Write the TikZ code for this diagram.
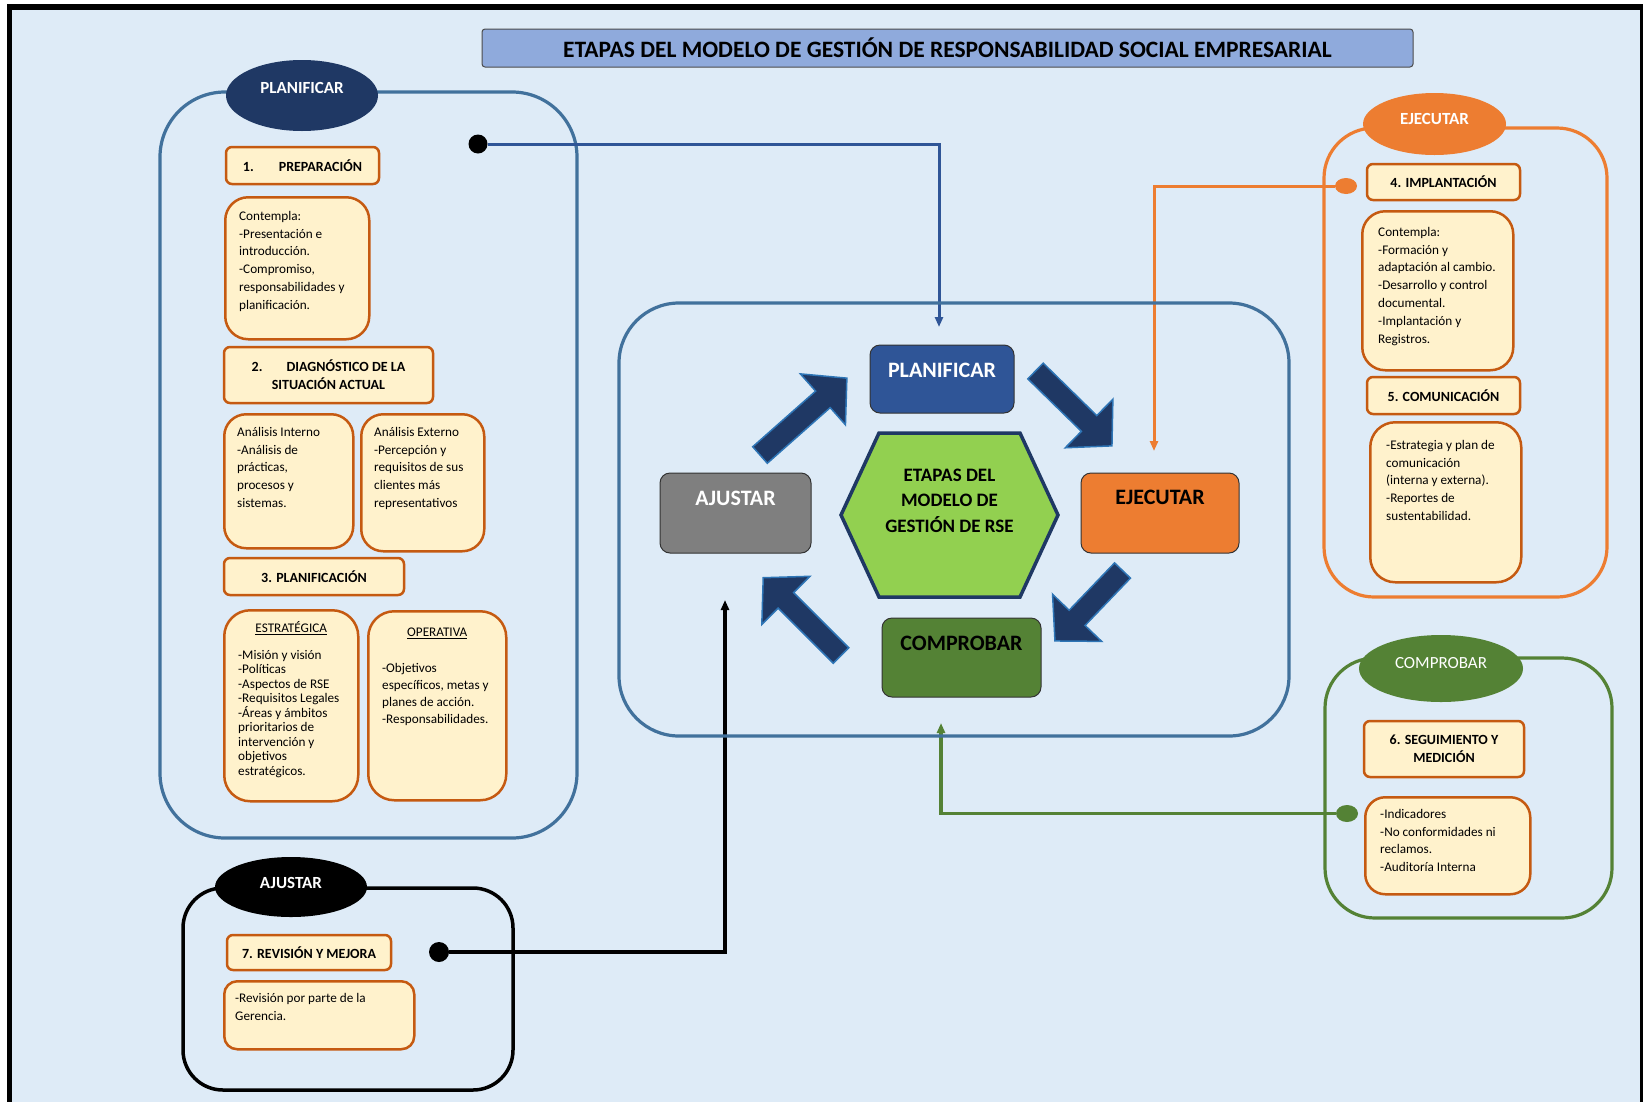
\documentclass[tikz,border=0pt]{standalone}
\usepackage{fontspec}
\setmainfont{Carlito}
\usetikzlibrary{arrows.meta, shapes.geometric}

\definecolor{bgblue}{HTML}{DEEBF7}
\definecolor{titleblue}{HTML}{8FAADC}
\definecolor{planblue}{HTML}{41719C}
\definecolor{navy}{HTML}{1F3864}
\definecolor{midblue}{HTML}{2F5597}
\definecolor{lineblue}{HTML}{2E75B6}
\definecolor{itemfill}{HTML}{FFF2CC}
\definecolor{itemline}{HTML}{C55A11}
\definecolor{ejorange}{HTML}{ED7D31}
\definecolor{okgreen}{HTML}{548235}
\definecolor{hexgreen}{HTML}{92D050}
\definecolor{stagegray}{HTML}{7F7F7F}

% block arrow of the cycle: tail, angle, length
\newcommand{\cyclearrow}[3]{%
	\draw[cycle arrow, shift = {#1}, rotate = #2]
		(0, -11) -- (#3 - 32, -11) -- (#3 - 32, -34) -- (#3, 0)
		-- (#3 - 32, 34) -- (#3 - 32, 11) -- (0, 11) -- cycle;}

\begin{document}
\begin{tikzpicture}[x = 1pt, y = -1pt,
		group/.style = {line width = 3.2pt},
		tag/.style = {ellipse, draw = none, inner sep = 0},
		tag text/.style = {text = white, inner sep = 0, font = \bfseries\fontsize{17}{20}\selectfont},
		head box/.style = {draw = itemline, fill = itemfill, line width = 2.5pt, rounded corners = 6pt, inner sep = 0, align = center, font = \bfseries\fontsize{14}{18}\selectfont},
		card/.style = {draw = itemline, fill = itemfill, line width = 2.5pt, inner sep = 0, anchor = north west},
		card head/.style = {inner sep = 0, font = \fontsize{13.2}{16}\selectfont},
		card text/.style = {anchor = north west, align = left, inner sep = 0, font = \fontsize{13.2}{17.8}\selectfont},
		stage/.style = {draw = black!80, line width = 1pt, rounded corners = 10pt, inner sep = 0},
		stage text/.style = {inner sep = 0, font = \bfseries\fontsize{22}{26}\selectfont},
		dot/.style = {ellipse, inner sep = 0},
		link/.style = {line width = 3pt, -{Triangle[length = 10pt, width = 8pt]}},
		cycle arrow/.style = {fill = navy, draw = lineblue, line width = 1.5pt, line join = miter}]
	\useasboundingbox (0, 0) rectangle (1643, 1101);
	% frame
	\draw[line width = 5.6pt, fill = bgblue] (9.5, 7) rectangle (1642.5, 1130);
	% title
	\node[draw = black!70, fill = titleblue, rounded corners = 3pt, line width = 1pt, minimum width = 931, minimum height = 38, inner sep = 0, font = \bfseries\fontsize{23.5}{28}\selectfont] (title) at (947.5, 48) {ETAPAS DEL MODELO DE GESTIÓN DE RESPONSABILIDAD SOCIAL EMPRESARIAL};

	% planificar
	\draw[group, draw = planblue, rounded corners = 65pt] (160, 92) rectangle (577, 838);
	\node[tag, fill = navy, minimum width = 152, minimum height = 71, label = {[tag text, yshift = 8pt]center:PLANIFICAR}] (plan-tag) at (302, 95.5) {};
	\node[head box, minimum width = 153, minimum height = 37] (prep-head) at (302.5, 165.5) {1.\hspace{25pt}PREPARACIÓN};
	\node[card, rounded corners = 23pt, minimum width = 144, minimum height = 142] (prep-card) at (224, 196) {};
	\node[card text] (prep-text) at (239, 211) {Contempla:\\-Presentación e\\introducción.\\-Compromiso,\\responsabilidades y\\planificación.};
	\node[head box, minimum width = 209, minimum height = 56] (diag-head) at (328.5, 375) {2.\hspace{24pt}DIAGNÓSTICO DE LA\\SITUACIÓN ACTUAL};
	\node[card, rounded corners = 22pt, minimum width = 129, minimum height = 134] (int-card) at (223, 413) {};
	\node[card text] (int-text) at (237, 427) {Análisis Interno\\-Análisis de\\prácticas,\\procesos y\\sistemas.};
	\node[card, rounded corners = 22pt, minimum width = 123, minimum height = 137] (ext-card) at (360, 413) {};
	\node[card text] (ext-text) at (374, 427) {Análisis Externo\\-Percepción y\\requisitos de sus\\clientes más\\representativos};
	\node[head box, minimum width = 180, minimum height = 37] (plan-head) at (314, 576.5) {3. PLANIFICACIÓN};
	\node[card, rounded corners = 26pt, minimum width = 134, minimum height = 191, label = {[card head, yshift = 77.5pt]center:\underline{ESTRATÉGICA}}] (est-card) at (223, 609) {};
	\node[card text, font = \fontsize{13.2}{14.5}\selectfont] (est-text) at (238, 650) {-Misión y visión\\-Políticas\\-Aspectos de RSE\\-Requisitos Legales\\-Áreas y ámbitos\\prioritarios de\\intervención y\\objetivos\\estratégicos.};
	\node[card, rounded corners = 26pt, minimum width = 138, minimum height = 189, label = {[card head, yshift = 72.5pt]center:\underline{OPERATIVA}}] (ope-card) at (367, 610) {};
	\node[card text, font = \fontsize{13.2}{17}\selectfont] (ope-text) at (382, 663) {-Objetivos\\específicos, metas y\\planes de acción.\\-Responsabilidades.};
	% planificar link
	\node[dot, fill = black, minimum width = 19, minimum height = 19] (plan-dot) at (478, 144) {};
	\coordinate (plan-end) at (939, 327);
	\draw[link, midblue] (plan-dot) -| (plan-end);

	% ajustar
	\draw[group, draw = black, line width = 3.5pt, rounded corners = 40pt] (183, 888) rectangle (513, 1090);
	\node[tag, fill = black, minimum width = 152, minimum height = 60, label = {[tag text, yshift = 4pt]center:AJUSTAR}] (adj-tag) at (291, 887) {};
	\node[head box, minimum width = 164, minimum height = 35] (rev-head) at (309, 952.5) {7. REVISIÓN Y MEJORA};
	\node[card, rounded corners = 13pt, minimum width = 190, minimum height = 68] (rev-card) at (223, 980) {};
	\node[card text] (rev-text) at (235, 993) {-Revisión por parte de la\\Gerencia.};
	\node[dot, fill = black, minimum width = 20, minimum height = 20] (adj-dot) at (439, 952) {};
	\coordinate (adj-end) at (725, 600);
	\draw[link, black, line width = 3.2pt] (adj-dot) -| (adj-end);

	% ejecutar
	\draw[group, draw = ejorange, rounded corners = 50pt] (1324, 128) rectangle (1607, 597);
	\node[tag, fill = ejorange, minimum width = 143, minimum height = 62, label = {[tag text, yshift = 5pt]center:EJECUTAR}] (ej-tag) at (1434.5, 124) {};
	\node[head box, minimum width = 153, minimum height = 36] (imp-head) at (1443.5, 182) {4. IMPLANTACIÓN};
	\node[card, rounded corners = 23pt, minimum width = 151, minimum height = 159] (imp-card) at (1361, 210) {};
	\node[card text] (imp-text) at (1378, 227) {Contempla:\\-Formación y\\adaptación al cambio.\\-Desarrollo y control\\documental.\\-Implantación y\\Registros.};
	\node[head box, minimum width = 153, minimum height = 37] (com-head) at (1443.5, 395.5) {5. COMUNICACIÓN};
	\node[card, rounded corners = 25pt, minimum width = 151, minimum height = 160] (com-card) at (1369, 421) {};
	\node[card text] (com-text) at (1386, 440) {-Estrategia y plan de\\comunicación\\(interna y externa).\\-Reportes de\\sustentabilidad.};
	% ejecutar link
	\node[dot, fill = ejorange, minimum width = 22, minimum height = 16] (ej-dot) at (1346, 186) {};
	\coordinate (ej-end) at (1154, 451);
	\draw[link, ejorange] (ej-dot) -| (ej-end);

	% comprobar
	\draw[group, draw = okgreen, rounded corners = 50pt] (1325, 658) rectangle (1612, 918);
	\node[tag, fill = okgreen, minimum width = 164, minimum height = 67, label = {[tag text, font = \fontsize{17}{20}\selectfont, yshift = 5.5pt]center:COMPROBAR}] (chk-tag) at (1441, 668.5) {};
	\node[head box, minimum width = 160, minimum height = 56] (seg-head) at (1444, 749) {6. SEGUIMIENTO Y\\MEDICIÓN};
	\node[card, rounded corners = 20pt, minimum width = 165, minimum height = 97] (seg-card) at (1364, 796) {};
	\node[card text] (seg-text) at (1380, 809) {-Indicadores\\-No conformidades ni\\reclamos.\\-Auditoría Interna};
	% comprobar link
	\node[dot, fill = okgreen, minimum width = 22, minimum height = 17] (chk-dot) at (1347, 813.5) {};
	\coordinate (chk-end) at (941, 723);
	\draw[link, okgreen, line width = 3.2pt] (chk-dot) -| (chk-end);

	% cycle
	\draw[group, draw = planblue, rounded corners = 60pt] (619, 303) rectangle (1289, 736);
	\node[stage, fill = midblue, minimum width = 144, minimum height = 68, label = {[stage text, text = white, yshift = 9pt]center:PLANIFICAR}] (st-plan) at (942, 379) {};
	\node[stage, fill = ejorange, minimum width = 158, minimum height = 80, label = {[stage text, yshift = 16pt]center:EJECUTAR}] (st-ej) at (1160, 513) {};
	\node[stage, fill = okgreen, minimum width = 159, minimum height = 79, label = {[stage text, yshift = 14.5pt]center:COMPROBAR}] (st-chk) at (961.5, 657.5) {};
	\node[stage, fill = stagegray, minimum width = 151, minimum height = 80, label = {[stage text, text = white, yshift = 15pt]center:AJUSTAR}] (st-adj) at (735.5, 513) {};
	% hexagon
	\draw[fill = hexgreen, draw = navy, line width = 3.5pt] (841, 515) -- (879, 433) -- (1020, 433) -- (1058, 515) -- (1020, 597) -- (879, 597) -- cycle;
	\node[align = center, inner sep = 0, font = \bfseries\fontsize{19}{25.5}\selectfont] (hub) at (949.5, 500.5) {ETAPAS DEL\\MODELO DE\\GESTIÓN DE RSE};
	% arrows
	\cyclearrow{(760, 455)}{41.5}{116}
	\cyclearrow{(1035.5, 371)}{-44.4}{107}
	\cyclearrow{(1122.5, 570.5)}{-133.8}{97.6}
	\cyclearrow{(841, 655.5)}{135}{110}
\end{tikzpicture}
\end{document}
